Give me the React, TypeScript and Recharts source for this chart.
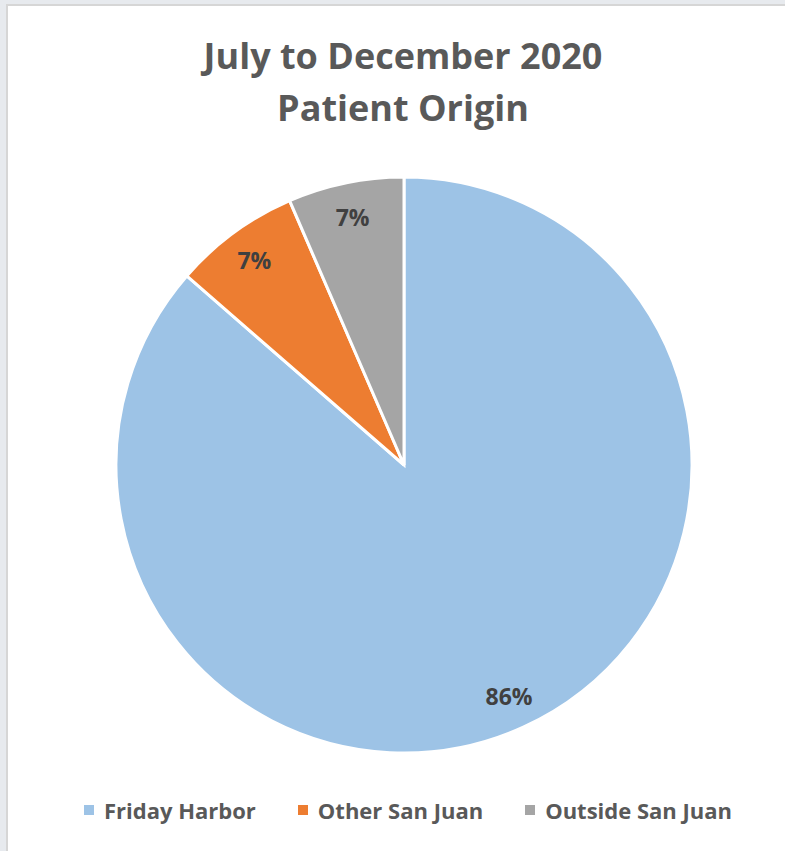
import { PieChart, Pie, Cell } from 'recharts'

const categories = ['Friday Harbor', 'Other San Juan', 'Outside San Juan']
const shares = [86.4, 7.1, 6.5]
const COLORS = ['#9dc3e6', '#ed7d31', '#a5a5a5']

const FONT = '"Open Sans", Lato, sans-serif'

const data = categories.map((name, i) => ({ name, value: shares[i] }))
const total = shares.reduce((a, b) => a + b, 0)

const RADIAN = Math.PI / 180

function renderLabel(props: any) {
  const { cx, cy, midAngle, outerRadius, value } = props
  const r = outerRadius * 0.88
  const x = cx + r * Math.cos(-midAngle * RADIAN)
  const y = cy + r * Math.sin(-midAngle * RADIAN)
  return (
    <text
      x={x}
      y={y}
      textAnchor="middle"
      dominantBaseline="central"
      fill="#404040"
      fontFamily={FONT}
      fontWeight={700}
      fontSize={23}
    >
      {`${Math.round((value / total) * 100)}%`}
    </text>
  )
}

export default function App() {
  return (
    <div style={{ position: 'absolute', left: 0, top: 0, width: 785, height: 851, background: '#e7eaee', overflow: 'hidden' }}>
      <div style={{ position: 'absolute', left: 6, top: 4, width: 800, height: 870, background: '#fff', border: '2px solid #d6d6d6', boxSizing: 'border-box' }} />
      <div style={{ position: 'absolute', left: 0, top: 0, width: 785, height: 851 }}>
        <PieChart width={785} height={851}>
          <Pie
            data={data}
            dataKey="value"
            nameKey="name"
            cx={399}
            cy={460}
            outerRadius={288}
            startAngle={90}
            endAngle={-270}
            stroke="#fff"
            strokeWidth={3}
            label={renderLabel}
            labelLine={false}
            isAnimationActive={false}
          >
            {data.map((entry, i) => (
              <Cell key={`cell-${entry.name}`} fill={COLORS[i]} />
            ))}
          </Pie>
        </PieChart>
      </div>
      <div style={{ position: 'absolute', left: 0, top: 30, width: 806, textAlign: 'center', fontFamily: FONT, fontWeight: 700, fontSize: 36, lineHeight: '52px', color: '#595959' }}>
        July to December 2020
        <br />
        Patient Origin
      </div>
      <div style={{ position: 'absolute', left: 0, top: 795, width: 816, display: 'flex', justifyContent: 'center', gap: 42, fontFamily: FONT, fontWeight: 700, fontSize: 22, color: '#595959' }}>
        {categories.map((name, i) => (
          <div key={name} style={{ display: 'flex', alignItems: 'center' }}>
            <span style={{ display: 'inline-block', width: 10, height: 10, background: COLORS[i], marginRight: 10 }} />
            <span>{name}</span>
          </div>
        ))}
      </div>
    </div>
  )
}
